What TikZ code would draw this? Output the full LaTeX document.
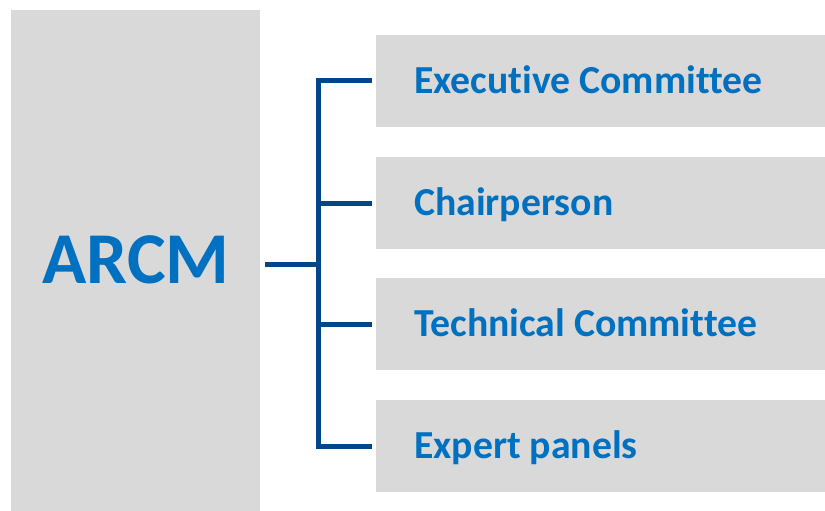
\documentclass[tikz,border=0pt]{standalone}
\usepackage{fontspec}
\setmainfont{Carlito}[RawFeature={-liga;-clig;-calt;-dlig}]
\definecolor{boxgray}{HTML}{D9D9D9}
\definecolor{txtblue}{HTML}{0070C0}
\definecolor{linblue}{HTML}{00478A}
\begin{document}
\begin{tikzpicture}[x=1pt,y=-1pt,
  box/.style={fill=boxgray,draw=none},
  lbl/.style={anchor=base west,inner sep=0pt,text=txtblue,font=\fontsize{39.7}{44}\selectfont\bfseries},
  conn/.style={draw=linblue,line width=5pt}]
\useasboundingbox (0,0) rectangle (825,511);
\fill[box] (11,10) rectangle (260,511);
\node[anchor=base west,inner sep=0pt,text=txtblue,font=\fontsize{73}{80}\selectfont\bfseries] (arcm) at (42,283) {ARCM};
\foreach \i/\t/\txt in {1/35/Executive Committee,2/157/Chairperson,3/278/Technical Committee,4/400/Expert panels}{
  \fill[box] (376,\t) rectangle (825,\t+92);
  \coordinate (b\i) at (372,\t+46);
  \node[lbl] (t\i) at (414,\t+58) {\txt};
}
\coordinate (s) at (265,264);
\coordinate (j) at (318,264);
\draw[conn] (s) -- (j);
\draw[conn] (b1) -| (j) |- (b4);
\draw[conn] (j |- b2) -- (b2);
\draw[conn] (j |- b3) -- (b3);
\end{tikzpicture}
\end{document}
